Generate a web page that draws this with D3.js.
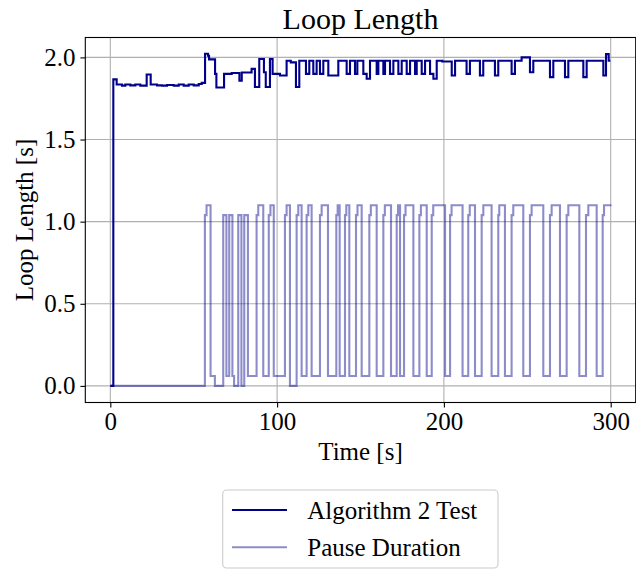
<!DOCTYPE html>
<html>
<head>
<meta charset="utf-8">
<script src="https://cdn.jsdelivr.net/npm/d3@7"></script>
<style>
  body { margin: 0; background: #fff; }
  text { font-family: "Liberation Serif", "Times New Roman", serif; fill: #000; }
</style>
</head>
<body>
<div id="chart"></div>
<script>
// step series (time in s, value in s); each value holds until the next time
const algoTime = [0, 1.8, 3.8, 7, 9, 12, 15, 18, 21.8, 24.2, 28, 31, 34, 38, 41, 44, 47, 50, 53, 54.8,
  56.8, 58.6, 59.2, 62.8, 63.6, 68.2, 72.8, 77.4, 78.8, 84.7, 86.7, 89.3, 92.1, 93.2, 95.7,
  97.3, 101.7, 105.7, 108.2, 111.3, 113.3, 117.3, 119.3, 121.7, 123.7, 125.7, 127.7, 130.7, 136.7,
  141.7, 143.7, 146.7, 148.1, 151.7, 153.7, 155.7, 159.7, 160.7, 163.7, 164.7, 167.7, 169.7,
  172.7, 174.7, 177.7, 179.7, 182.7, 183.7, 186.7, 188.7, 191.7, 193.7, 195.7, 199,
  204.7, 206.7, 213.6, 215.6, 221.6, 223.6, 230.6, 232.6, 240.6, 242.6, 246.6, 251.6, 253.6,
  263.6, 265.6, 272.6, 274.6, 283.6, 285.6, 295.6, 297.2, 298.8, 299.8];
const algoValue = [0, 1.866, 1.835, 1.828, 1.835, 1.83, 1.835, 1.828, 1.896, 1.835, 1.83, 1.828, 1.832, 1.828, 1.835, 1.828, 1.835, 1.83, 1.838, 1.845,
  2.022, 2.01, 1.988, 1.90, 1.817, 1.90, 1.905, 1.858, 1.908, 1.93, 1.82, 1.99, 1.91, 1.82, 1.99,
  1.90, 1.89, 1.98, 1.97, 1.82, 1.98, 1.90, 1.98, 1.90, 1.98, 1.90, 1.98, 1.89, 1.98,
  1.90, 1.98, 1.90, 1.98, 1.90, 1.87, 1.98, 1.90, 1.98, 1.90, 1.98, 1.90, 1.98,
  1.90, 1.98, 1.90, 1.98, 1.90, 1.98, 1.90, 1.98, 1.90, 1.87, 1.98, 1.975,
  1.89, 1.98, 1.90, 1.98, 1.89, 1.98, 1.89, 1.98, 1.90, 1.98, 2.0, 1.91, 1.98,
  1.88, 1.98, 1.88, 1.98, 1.88, 1.98, 1.89, 2.02, 1.98, 1.98];

const pauseTime = [0, 56.7, 57.7, 60.1, 62.7, 67.7, 69.6, 71.3, 73.2, 74.2, 76.7, 78.6, 80.3, 82.5,
  87.7, 88.7, 91.7, 95, 96, 98, 104.7, 105.7, 107.7, 111.7, 112.7, 114.7, 117.7, 118.7, 120.7,
  125.7, 126.7, 130.5, 135.5, 136.3, 137.5, 140.7, 141.5, 143.3, 147.3, 148.2, 150.7,
  155.3, 156.2, 159.7, 163.7, 164.6, 168.3, 171.7, 172.5, 173.7, 176.1, 177, 181.7,
  185.3, 186.2, 189.7, 192.7, 193.6, 200.7, 203.7, 204.6, 211.2, 214.6, 215.5, 218.65,
  222.65, 223.65, 228.6, 232.6, 233.2, 236.6, 240.6, 241.6, 247.6, 251.6, 252.6, 259.6,
  263.6, 264.6, 269.6, 273.6, 274.6, 281.2, 285.2, 286.6, 291.6, 295.2, 296, 300.5];
const pauseValue = [0, 1.04, 1.1, 0.06, 0, 1.04, 0.06, 1.04, 0.06, 0, 1.04, 0, 1.04, 0.06,
  1.04, 1.1, 0.06, 1.04, 1.1, 0.06, 1.04, 1.1, 0, 1.04, 1.1, 0.06, 1.04, 1.1, 0.06,
  1.04, 1.1, 0.06, 1.04, 1.1, 0.06, 1.04, 1.1, 0.06, 1.04, 1.1, 0.06,
  1.04, 1.1, 0.06, 1.04, 1.1, 0.06, 1.04, 1.1, 0.06, 1.04, 1.1, 0.06,
  1.04, 1.1, 0.06, 1.04, 1.1, 0.06, 1.04, 1.1, 0.06, 1.04, 1.1, 0.06,
  1.04, 1.1, 0.06, 1.04, 1.1, 0.06, 1.04, 1.1, 0.06, 1.04, 1.1, 0.06,
  1.04, 1.1, 0.06, 1.04, 1.1, 0.06, 1.04, 1.1, 0.06, 1.04, 1.1, 1.1];

const xTicks = [0, 100, 200, 300];
const yTicks = [0, 0.5, 1.0, 1.5, 2.0];
const seriesNames = ["Algorithm 2 Test", "Pause Duration"];

const width = 636, height = 571;
const svg = d3.select("#chart").append("svg")
  .attr("width", width).attr("height", height);

const x = d3.scaleLinear().domain([-15, 315]).range([85.3, 635.7]);
const y = d3.scaleLinear().domain([-0.101, 2.1212]).range([402.5, 37.5]);

// grid
svg.append("g").selectAll("line").data(xTicks).join("line")
  .attr("x1", d => x(d)).attr("x2", d => x(d))
  .attr("y1", y.range()[0]).attr("y2", y.range()[1])
  .attr("stroke", "#b0b0b0").attr("stroke-width", 1.1);
svg.append("g").selectAll("line").data(yTicks).join("line")
  .attr("y1", d => y(d)).attr("y2", d => y(d))
  .attr("x1", x.range()[0]).attr("x2", x.range()[1])
  .attr("stroke", "#b0b0b0").attr("stroke-width", 1.1);

const line = d3.line().curve(d3.curveStepAfter)
  .x(d => x(d[0])).y(d => y(d[1]));

const algo = algoTime.map((t, i) => [t, algoValue[i]]);
const pause = pauseTime.map((t, i) => [t, pauseValue[i]]);

svg.append("path").datum(algo)
  .attr("d", line).attr("fill", "none")
  .attr("stroke", "#00008b").attr("stroke-width", 2.1);
svg.append("path").datum(pause)
  .attr("d", line).attr("fill", "none")
  .attr("stroke", "#00008b").attr("stroke-opacity", 0.45).attr("stroke-width", 2.1);

// axes
const xAxis = svg.append("g").attr("transform", `translate(0,${y.range()[0]})`)
  .call(d3.axisBottom(x).tickValues(xTicks).tickSize(4.9).tickPadding(5).tickFormat(d3.format("d")));
const yAxis = svg.append("g").attr("transform", `translate(${x.range()[0]},0)`)
  .call(d3.axisLeft(y).tickValues(yTicks).tickSize(4.9).tickPadding(5).tickFormat(d3.format(".1f")));
[xAxis, yAxis].forEach(g => {
  g.select(".domain").remove();
  g.selectAll("line").attr("stroke", "#000").attr("stroke-width", 1.1);
  g.selectAll("text").attr("font-size", 25).attr("font-family", "Liberation Serif");
});

// frame
svg.append("rect")
  .attr("x", x.range()[0]).attr("y", y.range()[1])
  .attr("width", x.range()[1] - x.range()[0]).attr("height", y.range()[0] - y.range()[1])
  .attr("fill", "none").attr("stroke", "#000").attr("stroke-width", 1.1);

// title and labels
svg.append("text").attr("x", (x.range()[0] + x.range()[1]) / 2).attr("y", 29)
  .attr("text-anchor", "middle").attr("font-size", 30).text("Loop Length");
svg.append("text").attr("x", (x.range()[0] + x.range()[1]) / 2).attr("y", 460)
  .attr("text-anchor", "middle").attr("font-size", 25).text("Time [s]");
svg.append("text")
  .attr("transform", `translate(33,${(y.range()[0] + y.range()[1]) / 2}) rotate(-90)`)
  .attr("text-anchor", "middle").attr("font-size", 25).text("Loop Length [s]");

// legend
const lg = svg.append("g");
lg.append("rect").attr("x", 222.7).attr("y", 490).attr("width", 275.3).attr("height", 78)
  .attr("rx", 4).attr("fill", "#fff").attr("stroke", "#cccccc").attr("stroke-width", 1.1);
seriesNames.forEach((name, i) => {
  const yy = 510 + i * 37.3;
  lg.append("line").attr("x1", 232).attr("x2", 287).attr("y1", yy).attr("y2", yy)
    .attr("stroke", "#00008b").attr("stroke-opacity", i === 0 ? 1 : 0.45).attr("stroke-width", 2.1);
  lg.append("text").attr("x", 307.3).attr("y", yy + 8.5).attr("font-size", 25).text(name);
});
</script>
</body>
</html>
